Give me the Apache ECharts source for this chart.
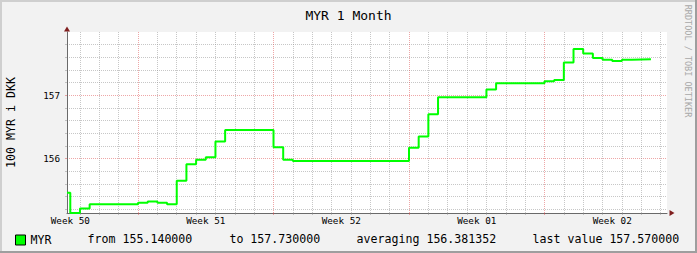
<!DOCTYPE html>
<html><head><meta charset="utf-8">
<script src="https://cdn.jsdelivr.net/npm/echarts@6/dist/echarts.min.js"></script>
<style>html,body{margin:0;padding:0;background:#f2f2f2}#c{width:697px;height:253px}</style>
</head><body><div id="c"></div>
<script>
// ---- data ----
const seriesName = 'MYR';
const chartTitle = 'MYR 1 Month';
const yTitle = '100 MYR i DKK';
const watermark = 'RRDTOOL / TOBI OETIKER';
// time in days relative to Monday 00:00 of week 51; each value holds until the next time
const timeDays = [-3.67, -3.5, -3, -2.5, 0, 0.5, 1, 1.5, 2, 2.5, 3, 3.5, 4, 4.5, 7, 7.5, 8,
  14, 14.5, 15, 15.5, 18, 18.5, 21, 21.5, 22, 22.5, 23, 23.5, 24, 24.5, 25, 25.5, 26.5];
const values = [155.46, 155.14, 155.21, 155.28, 155.30, 155.32, 155.30, 155.28, 155.65, 155.91, 155.98,
  156.02, 156.27, 156.45, 156.18, 155.98, 155.96, 156.17, 156.35, 156.70, 156.97, 157.09, 157.19,
  157.22, 157.24, 157.52, 157.73, 157.66, 157.59, 157.56, 157.54, 157.56, 157.57, 157.57];
const xRange = [-3.67, 27.33];
const yRange = [155.14, 158.0];
const weekLabels = ['Week 50', 'Week 51', 'Week 52', 'Week 01', 'Week 02'];
const weekLabelDays = [-3.5, 3.5, 10.5, 17.5, 24.5];
const weekStartDays = [0, 7, 14, 21];
const dayTicks = [-3, -2, -1, 1, 2, 3, 4, 5, 6, 8, 9, 10, 11, 12, 13, 15, 16, 17, 18, 19, 20, 22, 23, 24, 25, 26, 27];
const yLabelTicks = [156, 157];
const yMinorTicks = [155.2, 155.4, 155.6, 155.8, 156.2, 156.4, 156.6, 156.8, 157.2, 157.4, 157.6, 157.8];
const legendStats = ['from 155.140000', 'to 157.730000', 'averaging 156.381352', 'last value 157.570000'];

// ---- styles ----
const MONO = 'DejaVu Sans Mono';
const minorColor = 'rgba(143,143,143,0.5)';
const majorColor = 'rgba(222,79,79,0.5)';
const dash = [1, 1];

const chart = echarts.init(document.getElementById('c'), null, {renderer: 'svg'});

function gridAxis(kind, ticks, color, pos) {
  return {
    type: 'value', min: kind === 'x' ? xRange[0] : yRange[0], max: kind === 'x' ? xRange[1] : yRange[1],
    position: pos,
    axisLine: {show: false, onZero: false},
    axisLabel: {show: false},
    axisTick: {show: true, customValues: ticks, length: 2, lineStyle: {color: color, width: 1}},
    splitLine: {show: true, lineStyle: {color: color, width: 1, type: dash}}
  };
}

const option = {
  backgroundColor: '#f2f2f2',
  animation: false,
  title: {
    text: chartTitle, left: 'center', top: 4,
    textStyle: {fontFamily: MONO, fontSize: 13, fontWeight: 'normal', color: '#000'}
  },
  legend: {
    data: [seriesName], left: 15, top: 234, padding: 0,
    icon: 'rect', itemWidth: 10, itemHeight: 10, itemGap: 5,
    itemStyle: {borderColor: '#000', borderWidth: 1},
    textStyle: {fontFamily: MONO, fontSize: 11.6, color: '#000', padding: [0, 0, 0, 0]}
  },
  grid: {left: 67, top: 32, right: 30, bottom: 40, show: true, backgroundColor: '#fff', borderWidth: 0,
    containLabel: false, outerBoundsMode: 'none'},
  xAxis: [
    {
      type: 'value', min: xRange[0], max: xRange[1], position: 'bottom',
      axisLine: {show: true, onZero: false, lineStyle: {color: '#6a6a6a', width: 1}},
      axisTick: {show: false},
      splitLine: {show: false},
      axisLabel: {
        show: true, customValues: weekLabelDays, margin: 3,
        fontFamily: MONO, fontSize: 9.3, color: '#000',
        formatter: v => weekLabels[weekLabelDays.indexOf(v)] || ''
      }
    },
    gridAxis('x', dayTicks, minorColor, 'bottom'),
    gridAxis('x', weekStartDays, majorColor, 'bottom')
  ],
  yAxis: [
    {
      type: 'value', min: yRange[0], max: yRange[1], position: 'left',
      name: yTitle, nameLocation: 'middle', nameGap: 50, nameRotate: 90,
      nameTextStyle: {fontFamily: MONO, fontSize: 11.6, color: '#000'},
      axisLine: {show: true, onZero: false, lineStyle: {color: '#6a6a6a', width: 1}},
      axisTick: {show: false},
      splitLine: {show: false},
      axisLabel: {
        show: true, customValues: yLabelTicks, margin: 7,
        fontFamily: MONO, fontSize: 9.3, color: '#000',
        formatter: v => String(v)
      }
    },
    gridAxis('y', yMinorTicks, minorColor, 'left'),
    gridAxis('y', yLabelTicks, majorColor, 'left')
  ],
  series: [{
    name: seriesName, type: 'line', step: 'end', showSymbol: false, clip: false,
    xAxisIndex: 0, yAxisIndex: 0,
    data: timeDays.map((t, i) => [t, values[i]]),
    lineStyle: {color: '#00ff00', width: 2},
    itemStyle: {color: '#00ff00'},
    markPoint: {
      silent: true, symbol: 'triangle', label: {show: false},
      itemStyle: {color: '#801f1f'},
      data: [
        {coord: [xRange[0], yRange[1]], symbolSize: [6, 5], symbolOffset: [0, -3]},
        {coord: [xRange[1], yRange[0]], symbolSize: [6, 5], symbolRotate: -90, symbolOffset: [5, 0]}
      ]
    }
  }],
  graphic: [
    {type: 'rect', shape: {x: 0, y: 0, width: 697, height: 2}, style: {fill: '#cfcfcf'}, z: 100},
    {type: 'rect', shape: {x: 0, y: 0, width: 2, height: 253}, style: {fill: '#cfcfcf'}, z: 100},
    {type: 'rect', shape: {x: 0, y: 251, width: 697, height: 2}, style: {fill: '#9e9e9e'}, z: 101},
    {type: 'rect', shape: {x: 695, y: 0, width: 2, height: 253}, style: {fill: '#9e9e9e'}, z: 101},
    {type: 'text', x: 688, y: 61, rotation: -Math.PI / 2,
      style: {text: watermark, font: '8.5px "' + MONO + '"', fill: '#a8a8a8', textAlign: 'center', textVerticalAlign: 'middle'}},
    {type: 'text', x: 87.6, y: 239, style: {text: legendStats[0], font: '11.6px "' + MONO + '"', fill: '#000', textVerticalAlign: 'middle'}},
    {type: 'text', x: 229.4, y: 239, style: {text: legendStats[1], font: '11.6px "' + MONO + '"', fill: '#000', textVerticalAlign: 'middle'}},
    {type: 'text', x: 356.6, y: 239, style: {text: legendStats[2], font: '11.6px "' + MONO + '"', fill: '#000', textVerticalAlign: 'middle'}},
    {type: 'text', x: 532.6, y: 239, style: {text: legendStats[3], font: '11.6px "' + MONO + '"', fill: '#000', textVerticalAlign: 'middle'}}
  ]
};
chart.setOption(option);
</script>
</body></html>
